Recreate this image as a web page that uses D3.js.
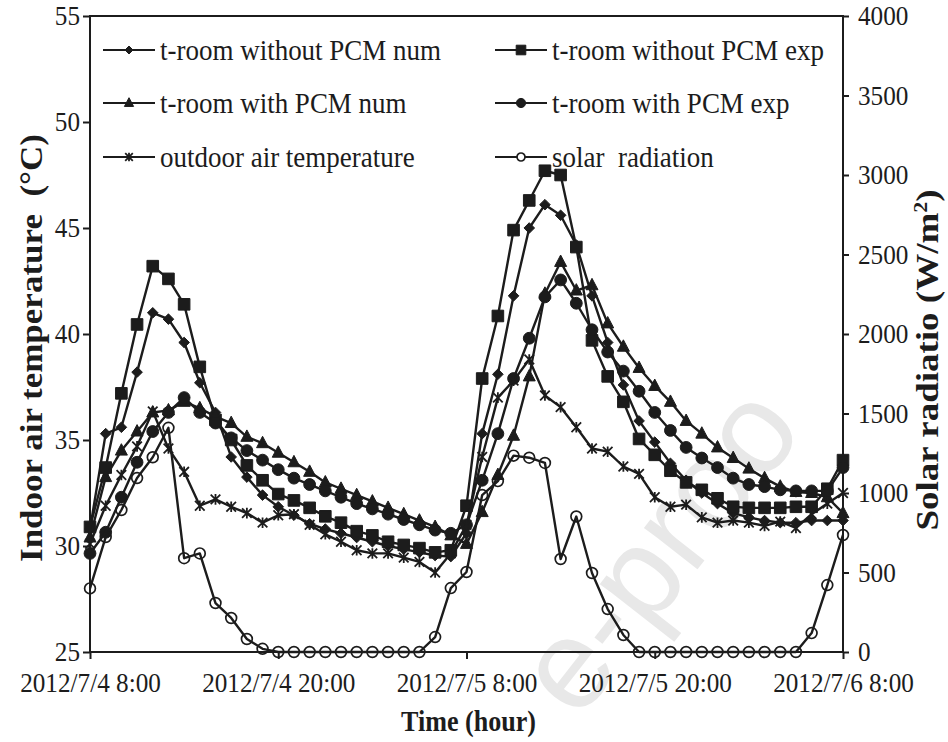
<!DOCTYPE html>
<html>
<head>
<meta charset="utf-8">
<script src="https://cdn.jsdelivr.net/npm/d3@7"></script>
<style>
  body { margin: 0; background: #fff; }
  svg { display: block; }
  text { font-family: "Liberation Serif", "Times New Roman", serif; fill: #1c1c1c; }
</style>
</head>
<body>
<svg id="chart" width="948" height="742"></svg>
<script>
// Hourly readings, 2012/7/4 8:00 to 2012/7/6 8:00 (hour offsets 0..48)
const hours = d3.range(0, 49);
const xTickHours = [0, 12, 24, 36, 48];
const xTickLabels = ["2012/7/4 8:00", "2012/7/4 20:00", "2012/7/5 8:00", "2012/7/5 20:00", "2012/7/6 8:00"];
const tempTicks = [25, 30, 35, 40, 45, 50, 55];
const solarTicks = [0, 500, 1000, 1500, 2000, 2500, 3000, 3500, 4000];

// Indoor / outdoor air temperature, °C
const roomWithoutPcmNum = [30.8, 35.3, 35.6, 38.2, 41.0, 40.7, 39.6, 37.7, 36.3, 34.2, 33.25, 32.4, 31.85, 31.45, 31.05, 30.8, 30.6, 30.4, 30.2, 30.0, 29.85, 29.7, 29.55, 29.5,
  30.6, 35.3, 38.1, 41.8, 45.0, 46.1, 45.6, 44.2, 41.8, 39.6, 37.6, 35.9, 34.9, 33.9, 33.1, 32.5, 32.0, 31.55, 31.35, 31.2, 31.1, 31.1, 31.2, 31.2, 31.2];
const roomWithoutPcmExp = [30.9, 33.7, 37.2, 40.45, 43.2, 42.6, 41.4, 38.45, 35.95, 35.0, 33.8, 33.1, 32.45, 32.15, 31.8, 31.4, 31.1, 30.7, 30.5, 30.2, 30.05, 29.9, 29.7, 29.8,
  31.9, 37.9, 40.85, 44.9, 46.3, 47.7, 47.5, 44.1, 39.7, 38.0, 36.8, 35.05, 34.3, 33.55, 33.0, 32.65, 32.25, 31.85, 31.8, 31.8, 31.8, 31.85, 31.85, 32.7, 34.05];
const roomWithPcmNum = [30.4, 33.25, 34.5, 35.4, 36.3, 36.4, 36.8, 36.5, 36.1, 35.8, 35.15, 34.85, 34.4, 33.95, 33.5, 33.0, 32.7, 32.4, 32.1, 31.8, 31.5, 31.2, 30.9, 30.5,
  30.1, 31.6, 33.35, 35.2, 38.0, 41.9, 43.4, 42.05, 42.3, 40.5, 39.4, 38.4, 37.55, 36.8, 35.9, 35.3, 34.65, 34.15, 33.65, 33.2, 32.8, 32.55, 32.5, 32.3, 31.55];
const roomWithPcmExp = [29.65, 30.65, 32.3, 33.95, 35.4, 36.3, 37.0, 36.3, 35.8, 35.1, 34.5, 34.05, 33.6, 33.2, 32.9, 32.6, 32.3, 32.0, 31.75, 31.5, 31.25, 31.0, 30.75, 30.6,
  31.0, 33.1, 35.3, 37.9, 39.8, 41.75, 42.55, 41.45, 40.2, 39.15, 38.25, 37.3, 36.3, 35.45, 34.65, 34.15, 33.7, 33.2, 32.9, 32.8, 32.65, 32.6, 32.6, 32.6, 33.7];
const outdoorAir = [30.1, 31.9, 33.35, 34.7, 36.35, 34.6, 33.5, 31.9, 32.2, 31.85, 31.55, 31.1, 31.45, 31.5, 31.0, 30.55, 30.2, 29.8, 29.65, 29.65, 29.45, 29.25, 28.75, 29.65,
  31.0, 34.2, 37.0, 37.8, 38.8, 37.1, 36.55, 35.6, 34.6, 34.45, 33.75, 33.4, 32.3, 31.85, 31.95, 31.35, 31.1, 31.2, 31.1, 30.95, 31.15, 30.85, 31.5, 32.0, 32.5];

// Solar radiation, W/m²
const solarRadiation = [400, 723, 893, 1094, 1225, 1410, 590, 620, 308, 214, 82, 20, 0, 0, 0, 0, 0, 0, 0, 0, 0, 0, 94, 402,
  503, 987, 1075, 1235, 1222, 1189, 585, 852, 497, 270, 107, 0, 0, 0, 0, 0, 0, 0, 0, 0, 0, 0, 119, 421, 736];

const INK = "#1c1c1c";
const SX = 0.9;            // horizontal squeeze of the serif lettering

const svg = d3.select("#chart");
const plot = { left: 90, right: 843, top: 16, bottom: 652 };

const x = d3.scaleLinear().domain([0, 48]).range([plot.left, plot.right]);
const yT = d3.scaleLinear().domain([25, 55]).range([plot.bottom, plot.top]);
const yS = d3.scaleLinear().domain([0, 4000]).range([plot.bottom, plot.top]);

// faint diagonal watermark lettering
svg.append("text")
  .attr("transform", "translate(578,722) rotate(-52)")
  .style("font-family", "'Liberation Sans', Arial, sans-serif")
  .style("font-size", "128px")
  .style("fill", "#e8e8e8")
  .text("e-proo");

// marker path builders
const markers = {
  diamond: r => `M0,${-r}L${r},0L0,${r}L${-r},0Z`,
  square: r => `M${-r},${-r}H${r}V${r}H${-r}Z`,
  triangle: r => `M0,${-r * 1.15}L${r},${r * 0.75}L${-r},${r * 0.75}Z`,
  circle: r => `M${r},0A${r},${r} 0 1,1 ${-r},0A${r},${r} 0 1,1 ${r},0Z`,
  asterisk: r => `M${-r},${-r}L${r},${r}M${-r},${r}L${r},${-r}M0,${-r * 1.1}V${r * 1.1}`,
  ring: r => `M${r},0A${r},${r} 0 1,1 ${-r},0A${r},${r} 0 1,1 ${r},0Z`
};
const markerStyle = {
  diamond: { fill: INK, stroke: INK, sw: 1, size: 5.3 },
  square: { fill: INK, stroke: INK, sw: 1, size: 5.8 },
  triangle: { fill: INK, stroke: INK, sw: 1, size: 6 },
  circle: { fill: INK, stroke: INK, sw: 1, size: 5.9 },
  asterisk: { fill: "none", stroke: INK, sw: 1.8, size: 4.8 },
  ring: { fill: "none", stroke: INK, sw: 1.7, size: 5.4 }
};

const series = [
  { name: "t-room without PCM num", values: roomWithoutPcmNum, marker: "diamond", scale: yT },
  { name: "t-room without PCM exp", values: roomWithoutPcmExp, marker: "square", scale: yT },
  { name: "t-room with PCM num", values: roomWithPcmNum, marker: "triangle", scale: yT },
  { name: "t-room with PCM exp", values: roomWithPcmExp, marker: "circle", scale: yT },
  { name: "outdoor air temperature", values: outdoorAir, marker: "asterisk", scale: yT },
  { name: "solar  radiation", values: solarRadiation, marker: "ring", scale: yS }
];

// series lines and markers
const gSeries = svg.append("g");
series.forEach(s => {
  const line = d3.line().x((d, i) => x(hours[i])).y(d => s.scale(d));
  gSeries.append("path")
    .attr("d", line(s.values))
    .attr("fill", "none")
    .attr("stroke", INK)
    .attr("stroke-width", 2.4)
    .attr("stroke-linejoin", "round");
  const st = markerStyle[s.marker];
  gSeries.append("g").selectAll("path")
    .data(s.values)
    .join("path")
    .attr("transform", (d, i) => `translate(${x(hours[i])},${s.scale(d)})`)
    .attr("d", markers[s.marker](st.size))
    .attr("fill", st.fill)
    .attr("stroke", st.stroke)
    .attr("stroke-width", st.sw);
});

// frame
svg.append("rect")
  .attr("x", plot.left).attr("y", plot.top)
  .attr("width", plot.right - plot.left).attr("height", plot.bottom - plot.top)
  .attr("fill", "none").attr("stroke", INK).attr("stroke-width", 2);

// axes
function styleAxis(g) {
  g.select(".domain").remove();
  g.selectAll(".tick line").attr("stroke", INK).attr("stroke-width", 2);
  g.selectAll(".tick text").style("font-size", "28px").attr("fill", INK);
}

svg.append("g")
  .attr("transform", `translate(${plot.left},0)`)
  .call(d3.axisLeft(yT).tickValues(tempTicks).tickSize(7).tickFormat(d3.format("d")))
  .call(styleAxis)
  .call(g => g.selectAll(".tick text").attr("x", -10 / SX).attr("transform", `scale(${SX},1)`));

svg.append("g")
  .attr("transform", `translate(${plot.right},0)`)
  .call(d3.axisRight(yS).tickValues(solarTicks).tickSize(6).tickFormat(d3.format("d")))
  .call(styleAxis)
  .call(g => g.selectAll(".tick text").attr("x", 15 / SX).attr("transform", `scale(${SX},1)`));

svg.append("g")
  .attr("transform", `translate(0,${plot.bottom})`)
  .call(d3.axisBottom(x).tickValues(xTickHours).tickSize(7)
    .tickFormat((d, i) => xTickLabels[i]))
  .call(styleAxis)
  .call(g => g.selectAll(".tick text").attr("y", 20).attr("transform", `scale(${SX},1)`));

// axis titles
svg.append("text")
  .attr("transform", `translate(${(plot.left + plot.right) / 2 + 2},731) scale(${SX},1)`)
  .attr("text-anchor", "middle")
  .style("font-size", "29px").style("font-weight", "bold")
  .text("Time (hour)");

svg.append("text")
  .attr("transform", "translate(42,348) rotate(-90) scale(1,0.88)")
  .attr("text-anchor", "middle")
  .style("font-size", "35px").style("font-weight", "bold")
  .style("white-space", "pre")
  .text("Indoor air temperature  (°C)");

const rt = svg.append("text")
  .attr("transform", "translate(938,360) rotate(-90) scale(1,0.88)")
  .attr("text-anchor", "middle")
  .style("font-size", "37px").style("font-weight", "bold");
rt.append("tspan").text("Solar radiatio (W/m");
rt.append("tspan").attr("dy", -13).style("font-size", "22px").text("2");
rt.append("tspan").attr("dy", 13).text(")");

// legend: two columns, three rows
const legendCols = [103, 495];
const legendRows = [50, 103, 157];
const legendSize = { diamond: 4, square: 4.8, triangle: 4.6, circle: 4.6, asterisk: 3.8, ring: 4 };
series.forEach((s, k) => {
  const cx = legendCols[k % 2], cy = legendRows[Math.floor(k / 2)];
  const g = svg.append("g").attr("transform", `translate(${cx},${cy})`);
  g.append("line").attr("x1", 0).attr("x2", 52).attr("y1", 0).attr("y2", 0)
    .attr("stroke", INK).attr("stroke-width", 2.2);
  const st = markerStyle[s.marker];
  g.append("path")
    .attr("transform", "translate(26,0)")
    .attr("d", markers[s.marker](legendSize[s.marker]))
    .attr("fill", st.fill === "none" ? "#fff" : st.fill)
    .attr("stroke", st.stroke).attr("stroke-width", st.sw);
  g.append("text")
    .attr("transform", `translate(57,10) scale(${SX},1)`)
    .style("font-size", "30px")
    .style("white-space", "pre")
    .text(s.name);
});
</script>
</body>
</html>
